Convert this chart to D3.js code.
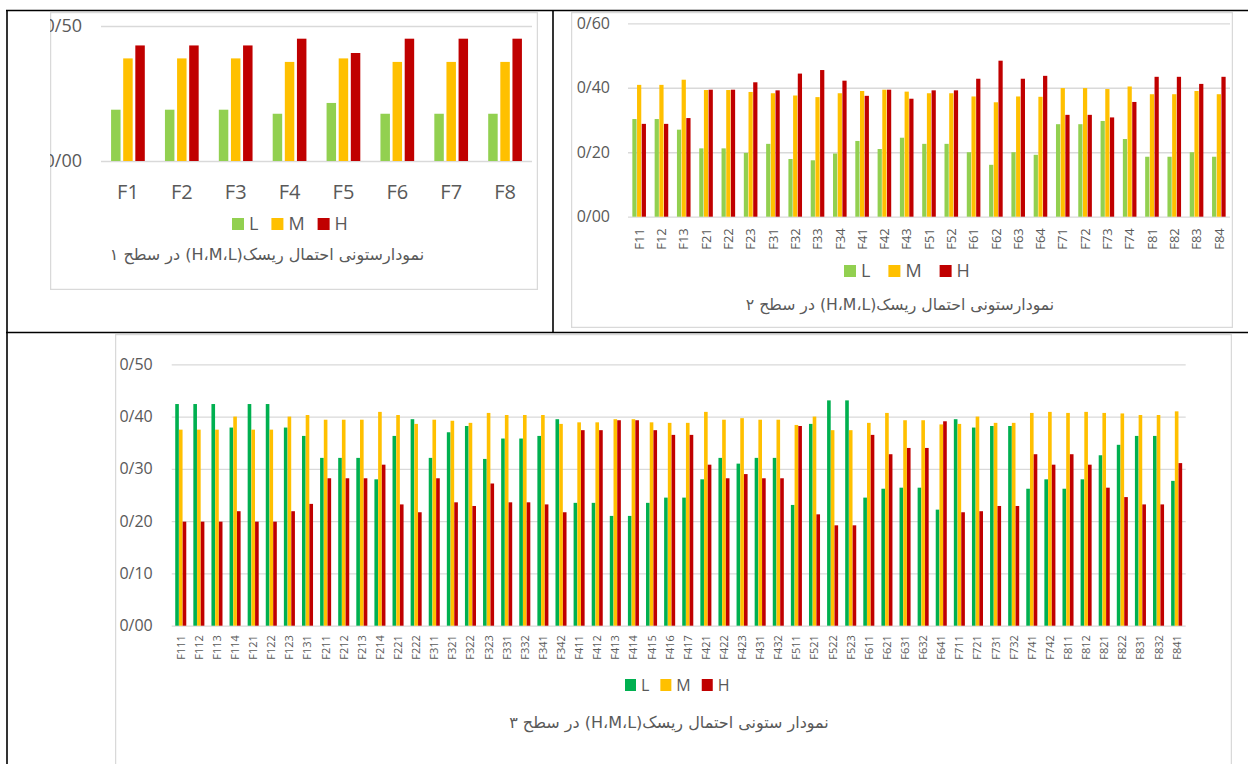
<!DOCTYPE html>
<html>
<head>
<meta charset="utf-8">
<script src="https://cdn.jsdelivr.net/npm/d3@7"></script>
<style>
  html, body { margin: 0; padding: 0; background: #fff; }
  svg { display: block; }
</style>
</head>
<body>
<script>
// ---------- DATA ----------
const seriesNames = ["L", "M", "H"];

// Chart 1 (level 1)
const c1Categories = ["F1","F2","F3","F4","F5","F6","F7","F8"];
const c1L = [0.19, 0.19, 0.19, 0.175, 0.215, 0.175, 0.175, 0.175];
const c1M = [0.38, 0.38, 0.38, 0.367, 0.38, 0.367, 0.367, 0.367];
const c1H = [0.428, 0.428, 0.428, 0.453, 0.40, 0.453, 0.453, 0.453];
const c1Ticks = [0, 0.5];
const c1TickLabels = ["0/00", "0/50"];
const c1Title = "نمودارستونی احتمال ریسک(H،M،L) در سطح ۱";

// Chart 2 (level 2)
const c2Categories = ["F11","F12","F13","F21","F22","F23","F31","F32","F33","F34","F41","F42","F43","F51","F52","F61","F62","F63","F64","F71","F72","F73","F74","F81","F82","F83","F84"];
const c2L = [0.303,0.303,0.270,0.212,0.212,0.198,0.226,0.179,0.175,0.196,0.235,0.210,0.245,0.226,0.226,0.200,0.161,0.200,0.192,0.287,0.287,0.297,0.241,0.186,0.186,0.200,0.186];
const c2M = [0.409,0.409,0.425,0.393,0.393,0.387,0.383,0.376,0.371,0.383,0.390,0.394,0.388,0.383,0.383,0.373,0.355,0.373,0.372,0.399,0.399,0.396,0.404,0.380,0.380,0.390,0.380];
const c2H = [0.288,0.288,0.306,0.394,0.394,0.417,0.392,0.444,0.455,0.422,0.375,0.394,0.366,0.392,0.392,0.428,0.484,0.428,0.437,0.316,0.316,0.308,0.356,0.434,0.434,0.412,0.434];
const c2Ticks = [0, 0.2, 0.4, 0.6];
const c2TickLabels = ["0/00", "0/20", "0/40", "0/60"];
const c2Title = "نمودارستونی احتمال ریسک(H،M،L) در سطح ۲";

// Chart 3 (level 3)
const c3Categories = ["F111","F112","F113","F114","F121","F122","F123","F131","F211","F212","F213","F214","F221","F222","F311","F321","F322","F323","F331","F332","F341","F342","F411","F412","F413","F414","F415","F416","F417","F421","F422","F423","F431","F432","F511","F521","F522","F523","F611","F621","F631","F632","F641","F711","F721","F731","F732","F741","F742","F811","F812","F821","F822","F831","F832","F841"];
const c3L = [0.424,0.424,0.424,0.379,0.424,0.424,0.379,0.363,0.321,0.321,0.321,0.280,0.363,0.395,0.321,0.370,0.382,0.319,0.358,0.358,0.363,0.395,0.235,0.235,0.210,0.210,0.235,0.245,0.245,0.280,0.321,0.310,0.321,0.321,0.231,0.386,0.431,0.431,0.245,0.262,0.264,0.264,0.222,0.395,0.379,0.382,0.382,0.262,0.280,0.262,0.280,0.326,0.346,0.363,0.363,0.277];
const c3M = [0.375,0.375,0.375,0.400,0.375,0.375,0.400,0.403,0.394,0.394,0.394,0.409,0.403,0.386,0.394,0.392,0.388,0.407,0.403,0.403,0.403,0.386,0.389,0.389,0.395,0.395,0.389,0.388,0.388,0.409,0.394,0.397,0.394,0.394,0.384,0.400,0.374,0.374,0.388,0.407,0.393,0.393,0.385,0.386,0.400,0.388,0.388,0.407,0.409,0.407,0.409,0.407,0.406,0.403,0.403,0.410];
const c3H = [0.199,0.199,0.199,0.219,0.199,0.199,0.219,0.233,0.282,0.282,0.282,0.308,0.232,0.217,0.282,0.236,0.229,0.272,0.236,0.236,0.232,0.217,0.374,0.374,0.393,0.393,0.374,0.365,0.365,0.308,0.282,0.290,0.282,0.282,0.382,0.213,0.192,0.192,0.365,0.328,0.340,0.340,0.391,0.217,0.219,0.229,0.229,0.328,0.308,0.328,0.308,0.264,0.246,0.232,0.232,0.311];
const c3Ticks = [0, 0.1, 0.2, 0.3, 0.4, 0.5];
const c3TickLabels = ["0/00", "0/10", "0/20", "0/30", "0/40", "0/50"];
const c3Title = "نمودار ستونی احتمال ریسک(H،M،L) در سطح ۳";

// ---------- DRAW ----------
const W = 1248, H = 764;
const svg = d3.select("body").append("svg").attr("width", W).attr("height", H);
const textColor = "#595959";
const gridColor = "#d9d9d9";
const latinFont = "'Open Sans', 'Liberation Sans', sans-serif";
const persianFont = "'DejaVu Sans', sans-serif";

function drawChart(o, idx) {
  const clipId = "clip" + idx;
  svg.append("clipPath").attr("id", clipId).append("rect")
    .attr("x", o.frame[0]).attr("y", o.frame[1]).attr("width", o.frame[2]).attr("height", o.frame[3]);
  const g = svg.append("g").attr("clip-path", `url(#${clipId})`);
  g.append("rect")
    .attr("x", o.frame[0] + 0.5).attr("y", o.frame[1] + 0.5)
    .attr("width", o.frame[2] - 1).attr("height", o.frame[3] - 1)
    .attr("fill", "#fff").attr("stroke", gridColor).attr("stroke-width", 1.5);

  const y = d3.scaleLinear().domain([0, o.yMax]).range([o.y0, o.yTop]);
  const x = d3.scaleBand().domain(o.cats).range([o.x0, o.x1]).padding(0);
  const bw = x.bandwidth();

  // y axis with gridlines
  const yAxis = d3.axisLeft(y).tickValues(o.ticks)
    .tickFormat((d, i) => o.tickLabels[i])
    .tickSizeInner(-(o.x1 - o.x0)).tickSizeOuter(0).tickPadding(o.yPad);
  const ya = g.append("g").attr("transform", `translate(${o.x0},0)`).call(yAxis);
  ya.select(".domain").remove();
  ya.selectAll(".tick line").attr("stroke", gridColor).attr("stroke-width", 1.3);
  ya.selectAll(".tick text").attr("fill", textColor).attr("font-family", latinFont)
    .attr("font-size", o.yFont);

  // bars
  o.series.forEach((vals, i) => {
    g.append("g").selectAll("rect")
      .data(o.cats.map((c, j) => ({ c, v: vals[j] })))
      .join("rect")
      .attr("x", d => x(d.c) + bw / 2 + (i - 1) * o.off * bw - o.bwf * bw / 2)
      .attr("width", o.bwf * bw)
      .attr("y", d => y(d.v))
      .attr("height", d => y(0) - y(d.v))
      .attr("fill", o.colors[i]);
  });

  // x axis
  const xAxis = d3.axisBottom(x).tickSize(0).tickPadding(o.xPad);
  const xa = g.append("g").attr("transform", `translate(0,${o.y0})`).call(xAxis);
  xa.select(".domain").remove();
  const xt = xa.selectAll(".tick text").attr("fill", textColor)
    .attr("font-family", latinFont).attr("font-size", o.xFont);
  if (o.rotate) {
    xt.attr("transform", "rotate(-90)").attr("x", -o.xPad).attr("y", 0)
      .attr("dy", "0.36em").attr("text-anchor", "end");
  }

  // legend
  const lg = g.append("g");
  let lx = o.legend.x;
  seriesNames.forEach((n, i) => {
    lg.append("rect").attr("x", lx).attr("y", o.legend.y - o.legend.sh / 2)
      .attr("width", o.legend.sw).attr("height", o.legend.sh).attr("fill", o.colors[i]);
    const t = lg.append("text").attr("x", lx + o.legend.sw + o.legend.gap).attr("y", o.legend.y)
      .attr("dy", "0.36em").attr("fill", textColor).attr("font-family", o.legend.font || latinFont)
      .attr("font-size", o.legend.size).text(n);
    lx += o.legend.sw + o.legend.gap + t.node().getComputedTextLength() + o.legend.itemGap;
  });

  // title
  g.append("text").attr("x", o.title.x).attr("y", o.title.y)
    .attr("dy", "0.35em").attr("text-anchor", "middle").attr("direction", "rtl")
    .attr("fill", textColor).attr("font-family", persianFont).attr("font-size", o.title.size)
    .text(o.title.text);
}

// table borders
const tb = svg.append("g").attr("stroke", "#000").attr("stroke-width", 1.6);
tb.append("line").attr("x1", 7).attr("x2", 7).attr("y1", 10).attr("y2", H);
tb.append("line").attr("x1", 6).attr("x2", W).attr("y1", 10.5).attr("y2", 10.5);
tb.append("line").attr("x1", 553).attr("x2", 553).attr("y1", 10).attr("y2", 333);
tb.append("line").attr("x1", 6).attr("x2", W).attr("y1", 332.5).attr("y2", 332.5);

drawChart({
  frame: [50, 12, 488, 278], x0: 101, x1: 532, y0: 161, yTop: 26, yMax: 0.5,
  ticks: c1Ticks, tickLabels: c1TickLabels, yPad: 19, yFont: 18,
  cats: c1Categories, series: [c1L, c1M, c1H], colors: ["#92D050", "#FFC000", "#C00000"],
  off: 0.225, bwf: 0.176, xPad: 24, xFont: 20, rotate: false,
  legend: { x: 232, y: 224, sw: 12, sh: 12, gap: 5, itemGap: 13, size: 18 },
  title: { x: 267, y: 254, size: 16, text: c1Title }
}, 1);

drawChart({
  frame: [571, 12, 662, 316], x0: 628, x1: 1230, y0: 216.7, yTop: 23.3, yMax: 0.6,
  ticks: c2Ticks, tickLabels: c2TickLabels, yPad: 18, yFont: 16,
  cats: c2Categories, series: [c2L, c2M, c2H], colors: ["#92D050", "#FFC000", "#C00000"],
  off: 0.21, bwf: 0.19, xPad: 11.5, xFont: 13, rotate: true,
  legend: { x: 844, y: 271, sw: 12, sh: 12, gap: 5, itemGap: 18, size: 18 },
  title: { x: 900, y: 305, size: 15.7, text: c2Title }
}, 2);

drawChart({
  frame: [115, 334, 1117, 460], x0: 171.7, x1: 1185.7, y0: 625.7, yTop: 364.3, yMax: 0.5,
  ticks: c3Ticks, tickLabels: c3TickLabels, yPad: 19, yFont: 16,
  cats: c3Categories, series: [c3L, c3M, c3H], colors: ["#00B050", "#FFC000", "#C00000"],
  off: 0.205, bwf: 0.2, xPad: 9.5, xFont: 11, rotate: true,
  legend: { x: 625, y: 685, sw: 11, sh: 12, gap: 5, itemGap: 11, size: 16 },
  title: { x: 669, y: 722, size: 16, text: c3Title }
}, 3);
</script>
</body>
</html>
